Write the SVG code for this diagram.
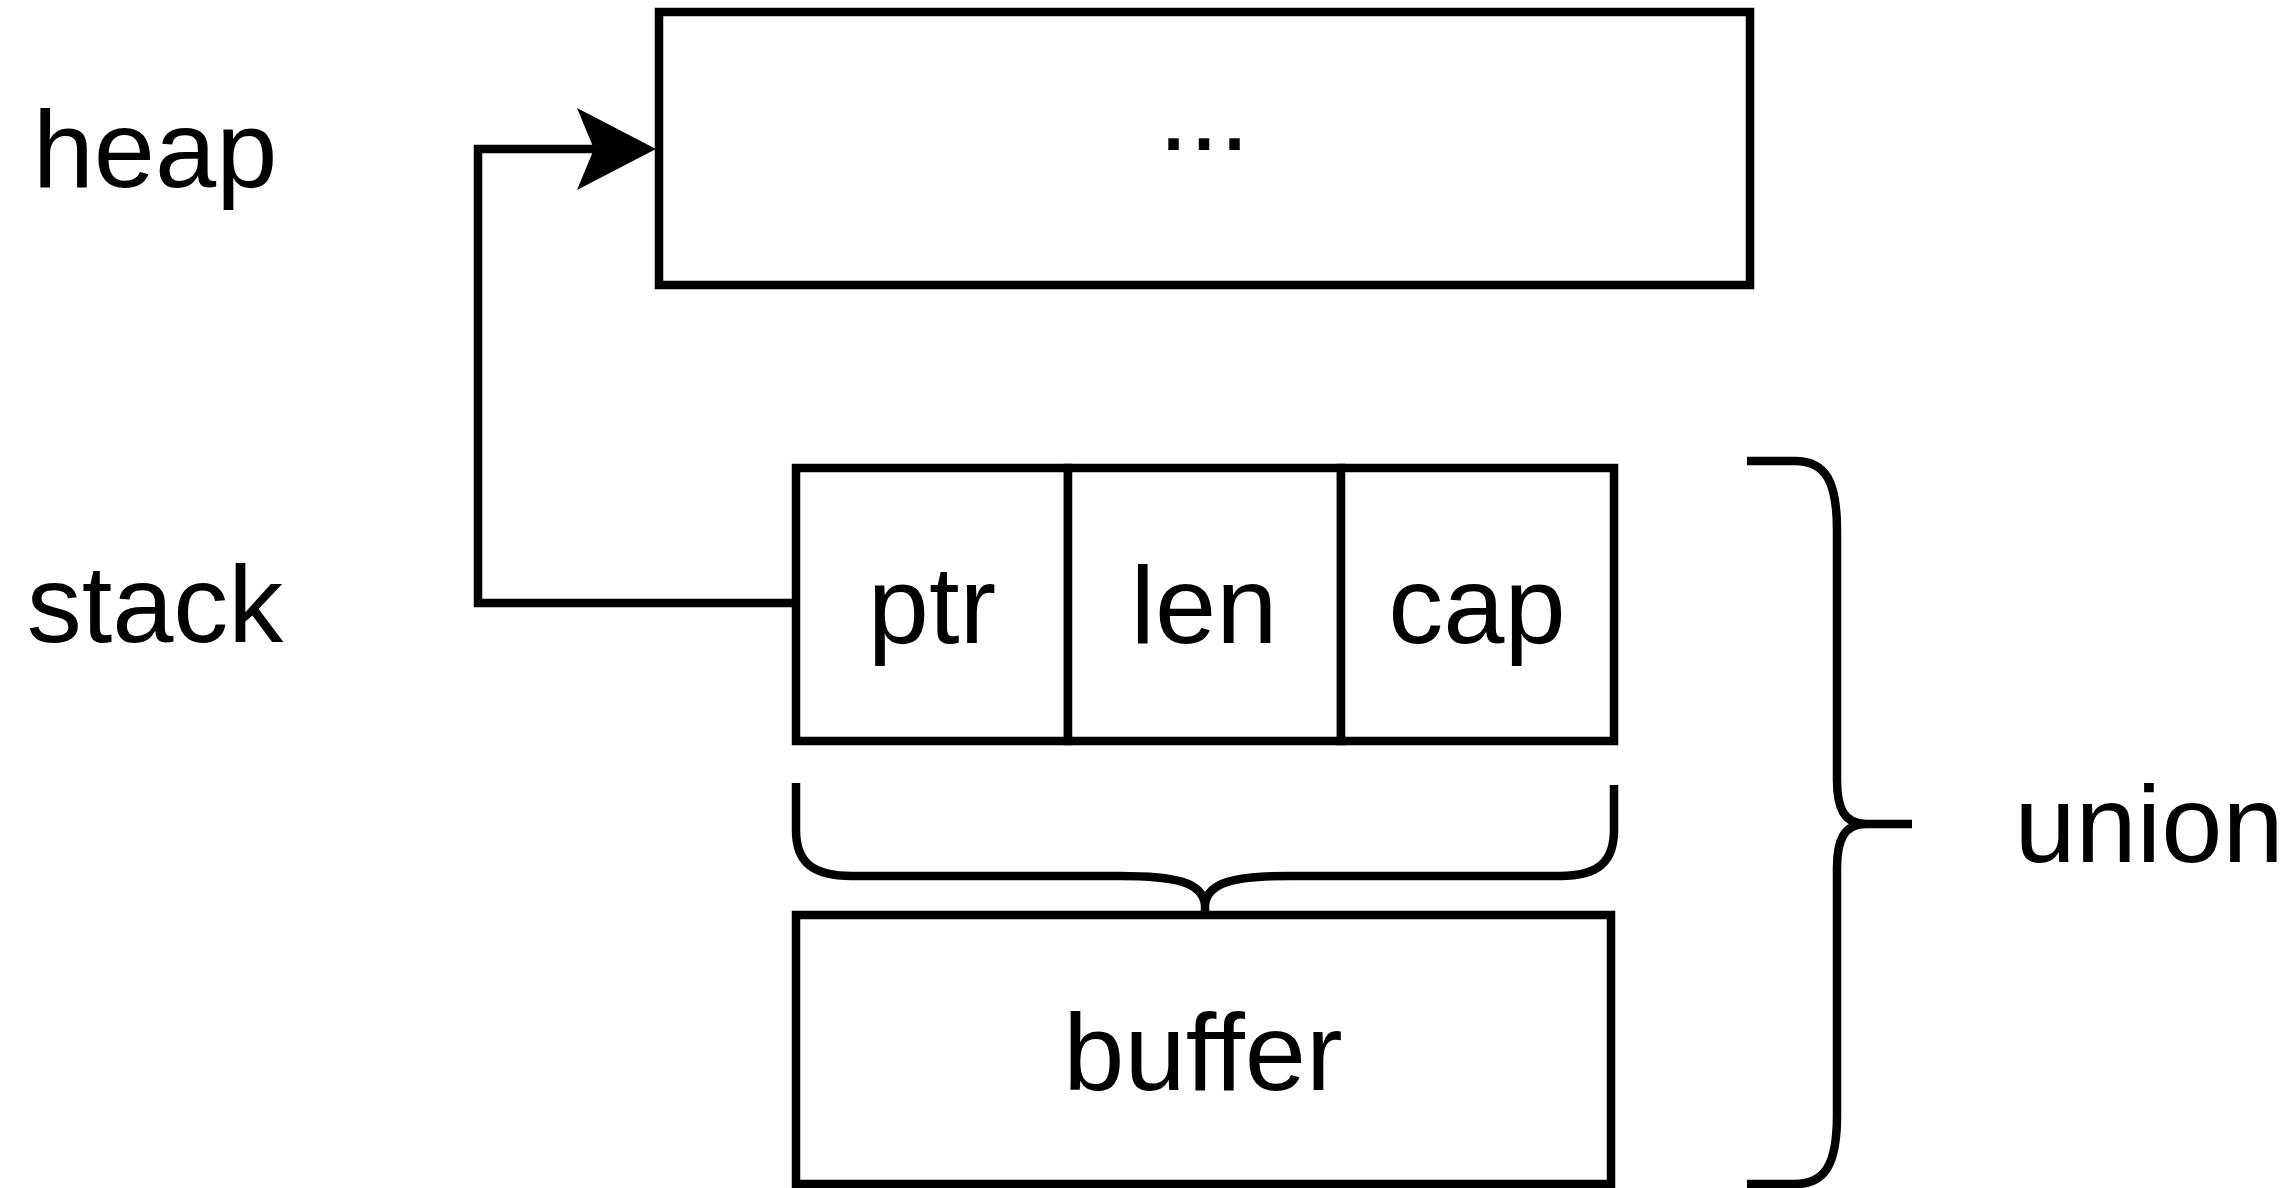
<svg xmlns="http://www.w3.org/2000/svg" width="2294" height="1188" viewBox="0 0 2294 1188">
<style>
.box{fill:#ffffff;stroke:#000000;stroke-width:8.5}
.line{fill:none;stroke:#000000;stroke-width:8.5;stroke-linejoin:miter}
.brace{fill:none;stroke:#000000;stroke-width:8.5;stroke-linecap:butt}
.lbl{font-family:"Liberation Sans",Arial,Helvetica,sans-serif;font-size:110px;fill:#000000;text-anchor:middle}
</style>
<defs>
<marker id="arrow" markerUnits="userSpaceOnUse" markerWidth="80" markerHeight="82" viewBox="0 0 80 82" refX="17" refY="41" orient="auto">
<path d="M0,0 L79,41 L0,82 L17,41 Z" fill="#000000"/>
</marker>
</defs>
<rect width="2294" height="1188" fill="#ffffff"/>
<g id="label-heap"><text class="lbl" x="155" y="187">heap</text></g>
<g id="label-stack"><text class="lbl" x="155" y="642">stack</text></g>
<g id="heap">
<rect class="box" x="659" y="12" width="1091" height="273"/>
<text class="lbl" x="1204" y="150">...</text>
</g>
<g id="ptr"><rect class="box" x="796" y="468" width="272" height="273"/><text class="lbl" x="932" y="643">ptr</text></g>
<g id="len"><rect class="box" x="1068" y="468" width="273" height="273"/><text class="lbl" x="1204" y="643">len</text></g>
<g id="cap"><rect class="box" x="1341" y="468" width="273" height="273"/><text class="lbl" x="1477" y="643">cap</text></g>
<g id="buffer"><rect class="box" x="796" y="915" width="815" height="269"/><text class="lbl" x="1203" y="1090">buffer</text></g>
<g id="brace-fields">
<path class="brace" d="M796 783 L796 830 C796 862 812 876 852 876 L1120 876 C1175 876 1203 882 1205 905 L1205 915 M1205 905 C1207 882 1235 876 1290 876 L1560 876 C1598 876 1614 862 1614 830 L1614 785"/>
</g>
<g id="brace-union">
<path class="brace" d="M1747 461 L1795 461 C1826 461 1837 482 1837 530 L1837 780 C1837 808 1844 824 1866 824 L1912 824 M1866 824 C1844 824 1837 840 1837 868 L1837 1115 C1837 1163 1826 1184 1795 1184 L1747 1184"/>
</g>
<g id="label-union"><text class="lbl" x="2149" y="862">union</text></g>
<g id="connectors">
<path class="line" d="M796 603 L478 603 L478 149 L594 149" marker-end="url(#arrow)"/>
</g>
</svg>
